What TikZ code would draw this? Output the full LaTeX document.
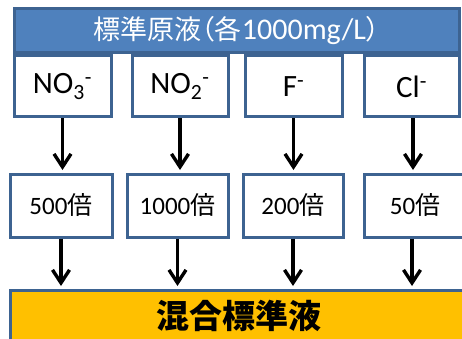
\documentclass[tikz,border=0pt]{standalone}
\usepackage{fontspec}
\setmainfont{Carlito}
\newfontfamily\cjk{Noto Sans CJK JP}
\newfontfamily\cjkp{Noto Sans CJK JP}[RawFeature=+palt]
\usetikzlibrary{arrows.meta}
\definecolor{bfill}{HTML}{4F81BD}
\definecolor{bline}{HTML}{3D6391}
\definecolor{ofill}{HTML}{FFC000}
\tikzset{
  banner/.style={draw=bline, fill=bfill, line width=3pt, minimum width=445pt, minimum height=44pt, inner sep=0pt, text=white, font=\fontsize{27}{30}\selectfont},
  ionbox/.style={draw=bline, fill=white, line width=3pt, minimum height=61pt, inner sep=0pt, font=\fontsize{31}{34}\selectfont},
  dilbox/.style={draw=bline, fill=white, line width=3pt, minimum height=63pt, inner sep=0pt, font=\fontsize{25}{28}\selectfont},
  mixbox/.style={draw=bline, fill=ofill, line width=3pt, minimum width=460pt, minimum height=60pt, inner sep=0pt},
  flow/.style={line width=3.4pt, -{Straight Barb[length=13pt,width=17pt]}, shorten >=2.5pt}
}
\begin{document}
\begin{tikzpicture}[x=1pt,y=-1pt]
\useasboundingbox (0,0) rectangle (462,339);
\node[banner] (src) at (236.5,31) {{\cjk 標準原液}{\cjkp （}{\cjk 各}{\fontsize{30}{32}\selectfont 1000mg/L}{\cjkp ）}};
\node[ionbox, minimum width=97pt] (t1) at (62.5,86.5) {NO\textsubscript{3}\textsuperscript{-}};
\node[ionbox, minimum width=96pt] (t2) at (180,86.5) {NO\textsubscript{2}\textsuperscript{-}};
\node[ionbox, minimum width=97pt] (t3) at (293.5,86.5) {F\textsuperscript{-}};
\node[ionbox, minimum width=95pt] (t4) at (411.5,86.5) {Cl\textsuperscript{-}};
\node[dilbox, minimum width=102pt] (m1) at (61,205.5) {500{\cjk 倍}};
\node[dilbox, minimum width=101pt] (m2) at (177.5,205.5) {1000{\cjk 倍}};
\node[dilbox, minimum width=100pt] (m3) at (293,205.5) {200{\cjk 倍}};
\node[dilbox, minimum width=102pt] (m4) at (415,205.5) {50{\cjk 倍}};
\node[mixbox] (mix) at (240,320) {};
\node[font=\fontsize{33}{36}\selectfont\cjk\bfseries] (mixt) at (238.5,316) {混合標準液};
\draw[flow] (t1.south) -- (t1.south |- m1.north);
\draw[flow] (t2.south) -- (t2.south |- m2.north);
\draw[flow] (t3.south) -- (t3.south |- m3.north);
\draw[flow] ([xshift=1.5pt]t4.south) -- ([xshift=1.5pt]t4.south |- m4.north);
\draw[flow] (m1.south) -- (m1.south |- mix.north);
\draw[flow] (m2.south) -- (m2.south |- mix.north);
\draw[flow] (m3.south) -- (m3.south |- mix.north);
\draw[flow] ([xshift=-3pt]m4.south) -- ([xshift=-3pt]m4.south |- mix.north);
\end{tikzpicture}
\end{document}
